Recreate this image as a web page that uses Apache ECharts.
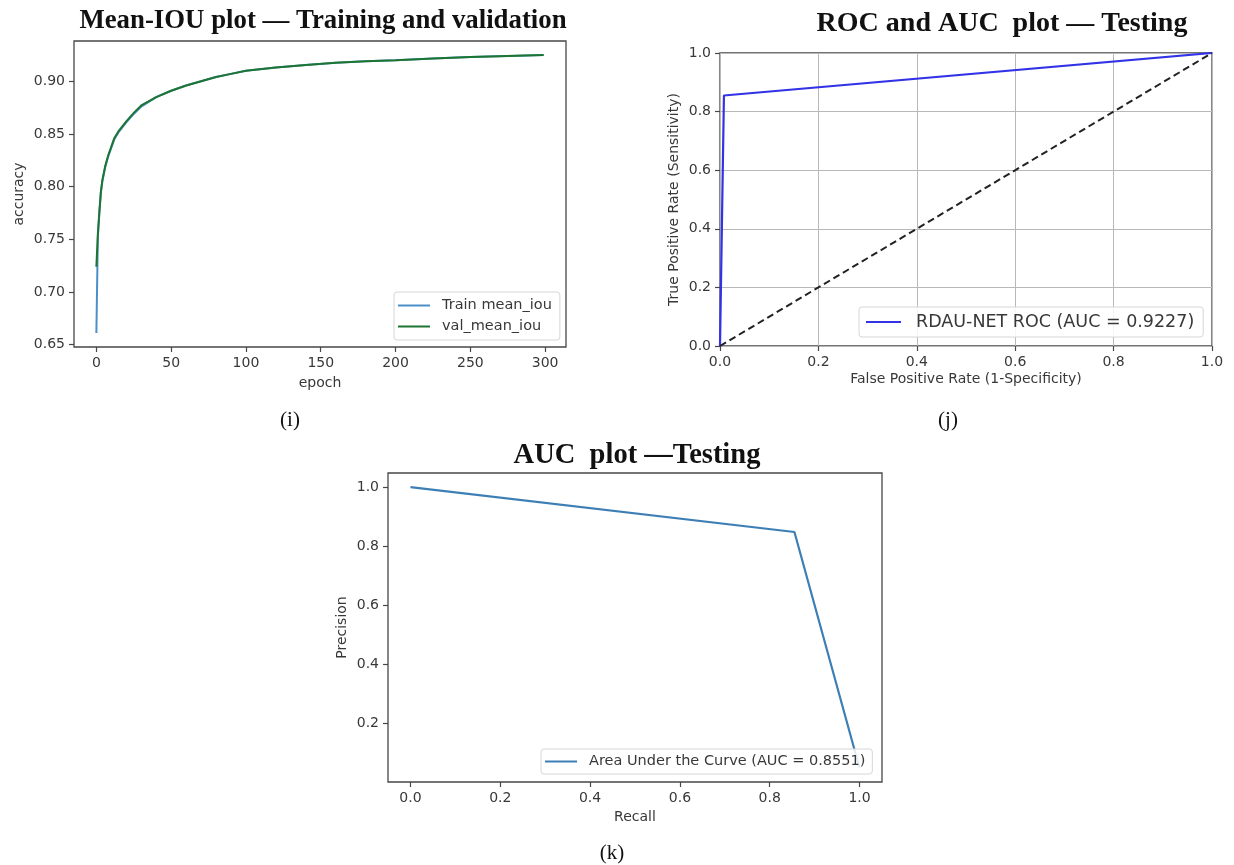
<!DOCTYPE html>
<html>
<head>
<meta charset="utf-8">
<script src="https://cdn.jsdelivr.net/npm/echarts@6/dist/echarts.min.js"></script>
<style>
  html, body { margin: 0; padding: 0; background: #fff; }
  #chart { width: 1234px; height: 865px; }
</style>
</head>
<body>
<div id="chart"></div>
<script>
// (i) mean IOU per epoch
const epochs = [0, 1, 2, 3, 4, 6, 8, 10, 12, 15, 20, 25, 30, 40, 50, 60, 70, 80, 90, 100, 120, 140, 160, 180, 200, 225, 250, 275, 299]
const trainIou = [0.661, 0.752, 0.775, 0.794, 0.805, 0.819, 0.829, 0.837, 0.845, 0.852, 0.861, 0.869, 0.876, 0.885, 0.891, 0.896, 0.900, 0.904, 0.907, 0.910, 0.913, 0.9155, 0.9175, 0.919, 0.920, 0.9215, 0.923, 0.924, 0.925]
const valIou = [0.724, 0.755, 0.776, 0.795, 0.806, 0.820, 0.830, 0.838, 0.846, 0.853, 0.862, 0.870, 0.877, 0.885, 0.891, 0.896, 0.900, 0.904, 0.907, 0.910, 0.913, 0.9155, 0.9175, 0.919, 0.920, 0.9215, 0.923, 0.924, 0.925]
const epochTicks = [0, 50, 100, 150, 200, 250, 300]
const iouTicks = [0.65, 0.70, 0.75, 0.80, 0.85, 0.90]

// (j) ROC
const fpr = [0, 0.008, 1]
const tpr = [0, 0.855, 1]
const chanceX = [0, 1]
const chanceY = [0, 1]

// (k) precision / recall
const recall = [0, 0.855, 1.0]
const precision = [1.0, 0.848, 0.05]
const unitTicks = [0, 0.2, 0.4, 0.6, 0.8, 1.0]
const precTicks = [0.2, 0.4, 0.6, 0.8, 1.0]

const zip = (xs, ys) => xs.map((x, i) => [x, ys[i]])

const sans = 'DejaVu Sans'
const txt = '#383838'
const frame = '#474747'

// common axis look (matplotlib-ish)
const axisBase = (fmt, ticks) => ({
  type: 'value',
  axisLine: { show: false, onZero: false },
  axisTick: { show: true, inside: false, length: 5, lineStyle: { color: frame, width: 1.2 }, customValues: ticks },
  axisLabel: { color: txt, fontFamily: sans, fontSize: 14, margin: 9, formatter: fmt, customValues: ticks },
  splitLine: { show: false },
  nameTextStyle: { color: txt, fontFamily: sans, fontSize: 14 },
  nameLocation: 'middle'
})

const legendBase = {
  orient: 'vertical',
  icon: 'rect',
  itemWidth: 32,
  itemHeight: 2,
  itemGap: 6,
  z: 20,
  borderColor: '#d6d6d6',
  borderWidth: 1,
  borderRadius: 3,
  backgroundColor: 'rgba(255,255,255,0.85)',
  textStyle: { color: txt, fontFamily: sans, fontSize: 14.5, padding: [0, 0, 0, 7] }
}

const chart = echarts.init(document.getElementById('chart'), null, { renderer: 'canvas' })

chart.setOption({
  animation: false,
  backgroundColor: '#fff',
  grid: [
    { left: 74, top: 41, width: 492, height: 306, show: true, borderColor: frame, borderWidth: 1.3 },
    { left: 720, top: 53, width: 492, height: 293, show: true, borderColor: frame, borderWidth: 1.3 },
    { left: 388, top: 473, width: 494, height: 309, show: true, borderColor: frame, borderWidth: 1.3 }
  ],
  xAxis: [
    Object.assign(axisBase((v) => String(Math.round(v)), epochTicks), {
      gridIndex: 0, min: -14.95, max: 313.95, name: 'epoch', nameGap: 29
    }),
    Object.assign(axisBase((v) => v.toFixed(1), unitTicks), {
      gridIndex: 1, min: 0, max: 1, name: 'False Positive Rate (1-Specificity)', nameGap: 26,
      splitLine: { show: true, lineStyle: { color: '#b8b8b8', width: 1 } },
      axisTick: { show: true, length: 5, lineStyle: { color: frame, width: 1.2 } },
      axisLabel: { color: txt, fontFamily: sans, fontSize: 14, margin: 9, formatter: (v) => v.toFixed(1) },
      interval: 0.2
    }),
    Object.assign(axisBase((v) => v.toFixed(1), unitTicks), {
      gridIndex: 2, min: -0.05, max: 1.05, name: 'Recall', nameGap: 28
    })
  ],
  yAxis: [
    Object.assign(axisBase((v) => v.toFixed(2), iouTicks), {
      gridIndex: 0, min: 0.6478, max: 0.9382, name: 'accuracy', nameGap: 48
    }),
    Object.assign(axisBase((v) => v.toFixed(1), unitTicks), {
      gridIndex: 1, min: 0, max: 1, name: 'True Positive Rate (Sensitivity)', nameGap: 39,
      splitLine: { show: true, lineStyle: { color: '#b8b8b8', width: 1 } },
      axisTick: { show: true, length: 5, lineStyle: { color: frame, width: 1.2 } },
      axisLabel: { color: txt, fontFamily: sans, fontSize: 14, margin: 9, formatter: (v) => v.toFixed(1) },
      interval: 0.2
    }),
    Object.assign(axisBase((v) => v.toFixed(1), precTicks), {
      gridIndex: 2, min: 0.0025, max: 1.0475, name: 'Precision', nameGap: 39
    })
  ],
  legend: [
    Object.assign({}, legendBase, {
      left: 394, top: 292, padding: [6, 8, 6, 4],
      data: ['Train mean_iou', 'val_mean_iou']
    }),
    Object.assign({}, legendBase, {
      left: 859, top: 307, padding: [6, 9, 6, 7], itemWidth: 35,
      textStyle: { color: txt, fontFamily: sans, fontSize: 17.5, padding: [0, 0, 0, 10] },
      data: ['RDAU-NET ROC (AUC = 0.9227)']
    }),
    Object.assign({}, legendBase, {
      left: 541, top: 749, padding: [5, 7, 5, 4],
      data: ['Area Under the Curve (AUC = 0.8551)']
    })
  ],
  series: [
    {
      name: 'Train mean_iou', type: 'line', xAxisIndex: 0, yAxisIndex: 0,
      data: zip(epochs, trainIou), showSymbol: false,
      color: '#4a8fc8', lineStyle: { width: 2 }
    },
    {
      name: 'val_mean_iou', type: 'line', xAxisIndex: 0, yAxisIndex: 0,
      data: zip(epochs, valIou), showSymbol: false,
      color: '#1d7532', lineStyle: { width: 2 }
    },
    {
      name: 'RDAU-NET ROC (AUC = 0.9227)', type: 'line', xAxisIndex: 1, yAxisIndex: 1,
      data: zip(fpr, tpr), showSymbol: false,
      color: '#3232e6', lineStyle: { width: 2.2 }
    },
    {
      name: 'chance', type: 'line', xAxisIndex: 1, yAxisIndex: 1,
      data: zip(chanceX, chanceY), showSymbol: false,
      color: '#222', lineStyle: { width: 2, type: [7, 4] }
    },
    {
      name: 'Area Under the Curve (AUC = 0.8551)', type: 'line', xAxisIndex: 2, yAxisIndex: 2,
      data: zip(recall, precision), showSymbol: false,
      color: '#3d7fb5', lineStyle: { width: 2.2 }
    }
  ],
  graphic: [
    { type: 'text', x: 323, y: 21, style: { text: 'Mean-IOU plot — Training and validation', font: 'bold 26.8px "Liberation Serif"', fill: '#111', textAlign: 'center', textVerticalAlign: 'middle' } },
    { type: 'text', x: 1002, y: 24, style: { text: 'ROC and AUC  plot — Testing', font: 'bold 28px "Liberation Serif"', fill: '#111', textAlign: 'center', textVerticalAlign: 'middle' } },
    { type: 'text', x: 637, y: 456, style: { text: 'AUC  plot —Testing', font: 'bold 28.5px "Liberation Serif"', fill: '#111', textAlign: 'center', textVerticalAlign: 'middle' } },
    { type: 'text', x: 290, y: 420, style: { text: '(i)', font: '21px "Liberation Serif"', fill: '#111', textAlign: 'center', textVerticalAlign: 'middle' } },
    { type: 'text', x: 948, y: 420, style: { text: '(j)', font: '21px "Liberation Serif"', fill: '#111', textAlign: 'center', textVerticalAlign: 'middle' } },
    { type: 'text', x: 612, y: 853, style: { text: '(k)', font: '21px "Liberation Serif"', fill: '#111', textAlign: 'center', textVerticalAlign: 'middle' } }
  ]
})
</script>
</body>
</html>
